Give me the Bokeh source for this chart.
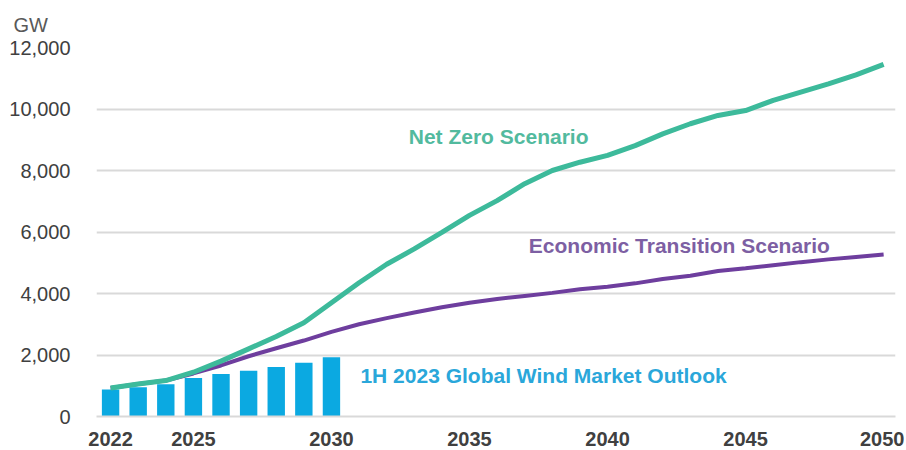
from bokeh.plotting import figure
from bokeh.models import FixedTicker, NumeralTickFormatter, Range1d
from bokeh.core.properties import value
from bokeh.embed import file_html
from bokeh.resources import INLINE

# ---- data ----
years = list(range(2022, 2051))
net_zero = [930, 1060, 1170, 1440, 1800, 2200, 2600, 3050, 3700, 4350, 4950, 5450,
            5990, 6540, 7020, 7570, 8000, 8270, 8490, 8810, 9190, 9520, 9790, 9950,
            10280, 10550, 10820, 11110, 11450]
econ_transition = [930, 1060, 1170, 1400, 1660, 1960, 2220, 2470, 2750, 3000, 3200,
                   3380, 3550, 3700, 3820, 3920, 4020, 4140, 4220, 4330, 4470, 4580,
                   4730, 4820, 4920, 5020, 5110, 5190, 5270]
outlook_years = list(range(2022, 2031))
outlook_values = [880, 950, 1050, 1250, 1380, 1490, 1610, 1750, 1930]
x_ticks = [2022, 2025, 2030, 2035, 2040, 2045, 2050]
y_ticks = [0, 2000, 4000, 6000, 8000, 10000, 12000]

FONT = "Liberation Sans"
GREEN = "#3DBA9B"
GREEN_TXT = "#52BA9E"
PURPLE = "#6E3E9E"
PURPLE_TXT = "#7D5FA3"
BLUE = "#0BA9E1"
BLUE_TXT = "#2AA7DA"
GRID = "#D9D9D9"
TICK_TXT = "#404040"

p = figure(width=904, height=448, output_backend="svg", toolbar_location=None,
           x_range=Range1d(2021.49, 2050.43), y_range=Range1d(0, 12000),
           min_border_left=96, min_border_right=9, min_border_top=47, min_border_bottom=32)
p.outline_line_color = None
p.background_fill_color = "white"

# title used as the unit label "GW"
p.title.text = "GW"
p.title.align = "left"
p.title.offset = -83
p.title.standoff = 23
p.title.text_font = FONT
p.title.text_font_size = "20px"
p.title.text_font_style = "normal"
p.title.text_color = "#595959"

# bars
p.vbar(x=outlook_years, top=outlook_values, width=0.63, bottom=0,
       fill_color=BLUE, line_color=None)

# lines
p.line(years, econ_transition, line_color=PURPLE, line_width=4)
p.line(years, net_zero, line_color=GREEN, line_width=5)

# annotations
p.text(x=[2032.8], y=[9100], text=["Net Zero Scenario"], text_color=GREEN_TXT,
       text_font=value(FONT), text_font_size="21px", text_font_style="bold",
       text_baseline="middle", text_align="left")
p.text(x=[2037.15], y=[5560], text=["Economic Transition Scenario"], text_color=PURPLE_TXT,
       text_font=value(FONT), text_font_size="21px", text_font_style="bold",
       text_baseline="middle", text_align="left")
p.text(x=[2031.05], y=[1330], text=["1H 2023 Global Wind Market Outlook"], text_color=BLUE_TXT,
       text_font=value(FONT), text_font_size="21px", text_font_style="bold",
       text_baseline="middle", text_align="left")

# axes
p.xaxis.ticker = FixedTicker(ticks=x_ticks)
p.xaxis.major_tick_line_color = None
p.xaxis.minor_tick_line_color = None
p.xaxis.axis_line_color = GRID
p.xaxis.axis_line_width = 2
p.xaxis.major_label_text_font = FONT
p.xaxis.major_label_text_font_size = "20px"
p.xaxis.major_label_text_font_style = "bold"
p.xaxis.major_label_text_color = TICK_TXT
p.xaxis.major_label_standoff = 9

p.yaxis.ticker = FixedTicker(ticks=y_ticks)
p.yaxis.formatter = NumeralTickFormatter(format="0,0")
p.yaxis.major_tick_line_color = None
p.yaxis.minor_tick_line_color = None
p.yaxis.axis_line_color = None
p.yaxis.major_label_text_font = FONT
p.yaxis.major_label_text_font_size = "20px"
p.yaxis.major_label_text_color = TICK_TXT
p.yaxis.major_label_standoff = 20

p.xgrid.grid_line_color = None
p.ygrid.ticker = FixedTicker(ticks=y_ticks)
p.ygrid.grid_line_color = GRID
p.ygrid.grid_line_width = 2
p.ygrid.level = "underlay"

open("out.html", "w").write(file_html(p, INLINE))
